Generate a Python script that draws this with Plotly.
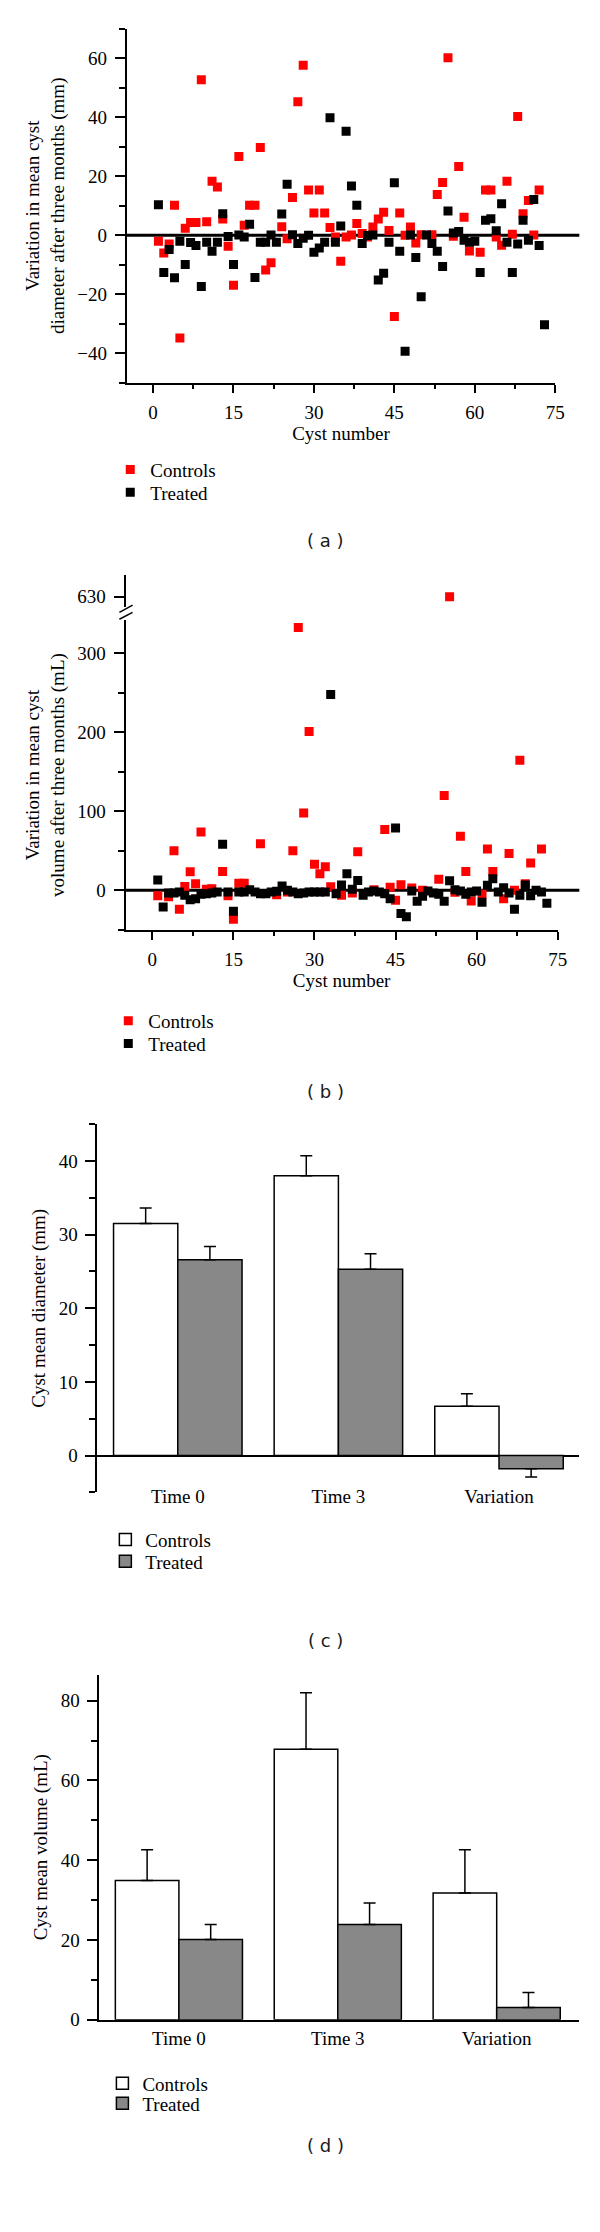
import plotly.graph_objects as go

# ---------------- data ----------------
# (a) variation in mean cyst diameter (mm)
controls_diam_cyst = [1, 2, 3, 4, 5, 6, 7, 8, 9, 10, 11, 12, 13, 14, 15, 16, 17, 18, 19, 20, 21, 22,
                      24, 25, 26, 27, 28, 29, 30, 31, 32, 33, 34, 35, 36, 37, 38, 39, 40, 41, 42, 43,
                      44, 45, 46, 47, 48, 49, 50, 52, 53, 54, 55, 56, 57, 58, 59, 61, 62, 63, 64, 65,
                      66, 67, 68, 69, 70, 71, 72]
controls_diam = [-2, -6, -3, 10.2, -34.8, 2.4, 4.3, 4.3, 52.7, 4.6, 18.3, 16.3, 5.5, -3.7, -16.9, 26.7,
                 3.4, 10.2, 10.2, 29.7, -11.8, -9.3,
                 2.9, -1.2, 12.8, 45.2, 57.6, 15.3, 7.5, 15.3, 7.5, 2.6, -0.6, -8.8, -0.6, 0.1, 4, 0.6,
                 -0.6, 2.8, 5.5, 7.8,
                 1.6, -27.5, 7.5, 0, 2.8, -2.6, 0.2, 0.2, 13.8, 17.9, 60.1, -0.3, 23.3, 6.1, -5.3, -5.8,
                 15.3, 15.3, -0.6, -3.4,
                 18.3, 0.3, 40.2, 7.3, 11.8, 0.1, 15.3]
treated_cyst = list(range(1, 74))
treated_diam = [10.3, -12.6, -4.8, -14.4, -2, -9.9, -2.5, -3.5, -17.4, -2.4,
                -5.4, -2.4, 7.3, -0.4, -9.9, 0.1, -0.6, 3.7, -14.3, -2.4,
                -2.4, 0.1, -2.4, 7.2, 17.3, 0.2, -2.8, -1, 0, -5.8,
                -4.3, -2.4, 39.8, -2.4, 3.1, 35.2, 16.7, 10.2, -2.8, -0.1,
                0.1, -15.2, -12.9, -2.4, 17.8, -5.4, -39.3, 0.1, -7.5, -20.8,
                0.1, -2.8, -5.4, -10.6, 8.2, 0.8, 1.3, -1.7, -2.4, -2,
                -12.6, 5.1, 5.6, 1.5, 10.7, -2.4, -12.6, -3, 5.1, -1.7,
                12.1, -3.5, -30.3]

# (b) variation in mean cyst volume (mL)
controls_vol_cyst = [1, 3, 4, 5, 6, 7, 8, 9, 10, 11, 13, 14, 15, 16, 17, 20, 23, 25, 26, 27, 28, 29,
                     30, 31, 32, 33, 35, 37, 38, 41, 43, 44, 45, 46, 48, 50, 53, 54, 55, 56, 57, 58,
                     59, 61, 62, 63, 65, 66, 67, 68, 69, 70, 72]
controls_vol = [-7, -8, 50, -24, 5, 23.5, 8.4, 74, 1.3, 2, 24, -7, -36.5, 9, 9, 59, -5.5, -2, 50, 333,
                98, 201,
                33, 21, 30, 4.6, -6.3, -3.4, 49, 0.8, 77, 3.8, -12.6, 7, 3, 0, 14, 120, 630, -2.5,
                68.5, 24,
                -13.4, -4.6, 52.5, 24, -10.5, 46.6, 0, 164.7, 8.4, 34.5, 52.5]
treated_vol = [13, -21, -3.4, -3.4, -2, -6.3, -11.8, -10.5, -5, -4.2,
               -3.4, -2, 58.4, -2, -26.5, -2, -2, 0.8, -2, -4.2,
               -4.2, -2, -1.3, 5.5, 0, -2, -4.2, -3.4, -2, -2,
               -2, -2, 248, -4.2, 6.7, 21, 1.3, 12.6, -6.3, -2,
               -0.8, -2, -4.2, -10.5, 79, -29.4, -33.6, -0.8, -13.9, -7.6,
               -0.8, -3.4, -5, -13.9, 12.2, 0.8, -0.8, -5, -2, -0.8,
               -15, 6.3, 14.7, -2, 3.4, -3.4, -24, -6.3, 6.7, -7,
               0, -2, -16.4]
vol_break = 350  # values above this are drawn on the upper (broken) segment

# (c), (d) group means with SE
categories = ["Time 0", "Time 3", "Variation"]
controls_mean_diam = [31.5, 38.0, 6.7]
controls_err_diam = [2.1, 2.7, 1.7]
treated_mean_diam = [26.6, 25.3, -1.8]
treated_err_diam = [1.8, 2.1, 1.1]
controls_mean_vol = [34.9, 67.8, 31.8]
controls_err_vol = [7.7, 14.2, 10.8]
treated_mean_vol = [20.1, 23.9, 3.1]
treated_err_vol = [3.8, 5.4, 3.7]

# ---------------- helpers ----------------
W, H = 600, 2232


def fx(px):
    return px / W


def fy(py):
    return 1 - py / H


SERIF = "Liberation Serif"
SANS = "DejaVu Sans"
RED = "#ff0000"
BLACK = "#000000"
GREY = "#888888"
tickfont = dict(family=SERIF, size=19, color="black")
titlefont = dict(family=SERIF, size=19, color="black")


def err_split(vals, errs):
    up = [e if v >= 0 else 0 for v, e in zip(vals, errs)]
    down = [e if v < 0 else 0 for v, e in zip(vals, errs)]
    return up, down


def yax(domain_px, rng, dtick, minor, title=None, standoff=8, anchor="x", lw=2):
    d = dict(domain=[fy(domain_px[1]), fy(domain_px[0])], range=rng, anchor=anchor,
             showline=True, linewidth=lw, linecolor="black", mirror=False,
             ticks="outside", ticklen=10, tickwidth=lw, tickcolor="black",
             tick0=0, dtick=dtick, showgrid=False, zeroline=False,
             tickfont=tickfont, ticklabelstandoff=4)
    if minor:
        d["minor"] = dict(dtick=minor, ticks="outside", ticklen=6, tickwidth=lw, tickcolor="black")
    if title:
        d["title"] = dict(text=title, font=titlefont, standoff=standoff)
    return d


def leg(xpx, ypx):
    return dict(x=fx(xpx), y=fy(ypx), xanchor="left", yanchor="middle",
                font=dict(family=SERIF, size=19, color="black"),
                bgcolor="rgba(0,0,0,0)", borderwidth=0)


fig = go.Figure()

# ---- (a) ----
fig.add_trace(go.Scatter(x=controls_diam_cyst, y=controls_diam, mode="markers", name="Controls",
                         marker=dict(symbol="square", size=9, color=RED),
                         xaxis="x", yaxis="y", legend="legend"))
fig.add_trace(go.Scatter(x=treated_cyst, y=treated_diam, mode="markers", name="Treated",
                         marker=dict(symbol="square", size=9, color=BLACK),
                         xaxis="x", yaxis="y", legend="legend2"))

# ---- (b) ----
low_x = [c for c, v in zip(controls_vol_cyst, controls_vol) if v <= vol_break]
low_y = [v for v in controls_vol if v <= vol_break]
up_x = [c for c, v in zip(controls_vol_cyst, controls_vol) if v > vol_break]
up_y = [v for v in controls_vol if v > vol_break]
fig.add_trace(go.Scatter(x=low_x, y=low_y, mode="markers", name="Controls",
                         marker=dict(symbol="square", size=9, color=RED),
                         xaxis="x2", yaxis="y2", legend="legend3"))
fig.add_trace(go.Scatter(x=up_x, y=up_y, mode="markers", name="Controls", showlegend=False,
                         marker=dict(symbol="square", size=9, color=RED),
                         xaxis="x2", yaxis="y3"))
fig.add_trace(go.Scatter(x=treated_cyst, y=treated_vol, mode="markers", name="Treated",
                         marker=dict(symbol="square", size=9, color=BLACK),
                         xaxis="x2", yaxis="y2", legend="legend4"))

# ---- (c) ----
u, d = err_split(controls_mean_diam, controls_err_diam)
fig.add_trace(go.Bar(x=categories, y=controls_mean_diam, name="Controls",
                     marker=dict(color="white", line=dict(color="black", width=1.5)),
                     error_y=dict(type="data", symmetric=False, array=u, arrayminus=d,
                                  color="black", thickness=1.5, width=6),
                     xaxis="x3", yaxis="y4", legend="legend5"))
u, d = err_split(treated_mean_diam, treated_err_diam)
fig.add_trace(go.Bar(x=categories, y=treated_mean_diam, name="Treated",
                     marker=dict(color=GREY, line=dict(color="black", width=1.5)),
                     error_y=dict(type="data", symmetric=False, array=u, arrayminus=d,
                                  color="black", thickness=1.5, width=6),
                     xaxis="x3", yaxis="y4", legend="legend6"))

# ---- (d) ----
u, d = err_split(controls_mean_vol, controls_err_vol)
fig.add_trace(go.Bar(x=categories, y=controls_mean_vol, name="Controls",
                     marker=dict(color="white", line=dict(color="black", width=1.5)),
                     error_y=dict(type="data", symmetric=False, array=u, arrayminus=d,
                                  color="black", thickness=1.5, width=6),
                     xaxis="x4", yaxis="y5", legend="legend7"))
u, d = err_split(treated_mean_vol, treated_err_vol)
fig.add_trace(go.Bar(x=categories, y=treated_mean_vol, name="Treated",
                     marker=dict(color=GREY, line=dict(color="black", width=1.5)),
                     error_y=dict(type="data", symmetric=False, array=u, arrayminus=d,
                                  color="black", thickness=1.5, width=6),
                     xaxis="x4", yaxis="y5", legend="legend8"))

xcommon = dict(showline=True, linewidth=2, linecolor="black", ticks="outside", ticklen=8,
               tickwidth=2, tickcolor="black", tick0=0, dtick=15,
               minor=dict(dtick=7.5, ticks="outside", ticklen=4, tickwidth=2, tickcolor="black"),
               showgrid=False, zeroline=False, tickfont=tickfont, ticklabelstandoff=3)

fig.update_layout(
    width=W, height=H, autosize=False,
    margin=dict(l=0, r=0, t=0, b=0),
    paper_bgcolor="white", plot_bgcolor="white",
    barmode="group", bargap=0.2, bargroupgap=0,
    # (a)
    xaxis=dict(domain=[fx(120.8), fx(556.5)], range=[-4.9, 75], anchor="y",
               title=dict(text="Cyst number", font=titlefont, standoff=4), **xcommon),
    yaxis=yax((20.7, 376.7), [-50, 70], 20, 10,
              title="Variation in mean cyst<br>diameter after three months (mm)", anchor="x"),
    # (b)
    xaxis2=dict(domain=[fx(119.6), fx(559)], range=[-4.95, 75], anchor="y2",
                title=dict(text="Cyst number", font=titlefont, standoff=4), **xcommon),
    yaxis2=yax((615, 926.7), [-50.4, 342.4], 100, 50,
               title="Variation in mean cyst<br>volume after three months (mL)", anchor="x2"),
    yaxis3=dict(domain=[fy(601.7), fy(570)], range=[620, 651.7], anchor="x2",
                showline=True, linewidth=2, linecolor="black", ticks="outside", ticklen=10,
                tickwidth=2, tickcolor="black", tickvals=[630], showgrid=False, zeroline=False,
                tickfont=tickfont, ticklabelstandoff=4),
    # (c)
    xaxis3=dict(domain=[fx(91), fx(581)], range=[-0.5, 2.5], type="category",
                anchor="free", position=fy(1482), showline=False, ticks="",
                showgrid=False, zeroline=False, tickfont=tickfont),
    yaxis4=dict(**yax((1121.7, 1491.7), [-5, 45], 10, 5, title="Cyst mean diameter (mm)",
                      anchor="x3"), ),
    # (d)
    xaxis4=dict(domain=[fx(93), fx(581)], range=[-0.5, 2.52], type="category",
                anchor="y5", showline=True, linewidth=2, linecolor="black", ticks="",
                showgrid=False, zeroline=False, tickfont=tickfont),
    yaxis5=yax((1675, 2021.7), [0, 86.5], 20, 10, title="Cyst mean volume (mL)", anchor="x4"),
    legend=leg(104, 464), legend2=leg(104, 486.7),
    legend3=leg(102, 1018), legend4=leg(102, 1040.7),
    legend5=leg(99, 1539.3), legend6=leg(99, 1561),
    legend7=leg(96, 2085.7), legend8=leg(96, 2105.7),
)

# zero line for (c) through its y axis
fig.layout.yaxis4.zeroline = True
fig.layout.yaxis4.zerolinecolor = "black"
fig.layout.yaxis4.zerolinewidth = 1.5

shapes = [
    # zero reference lines for scatter panels, extending past the last tick
    dict(type="line", xref="paper", yref="y", x0=fx(120.8), x1=fx(581), y0=0, y1=0,
         line=dict(color="black", width=3), layer="below"),
    dict(type="line", xref="paper", yref="y2", x0=fx(119.6), x1=fx(581), y0=0, y1=0,
         line=dict(color="black", width=3), layer="below"),
    # axis break marks on (b)
    dict(type="line", xref="paper", yref="paper", x0=fx(113.3), y0=fy(607.3), x1=fx(126.7), y1=fy(600),
         line=dict(color="black", width=1.5)),
    dict(type="line", xref="paper", yref="paper", x0=fx(113.3), y0=fy(614.3), x1=fx(126.7), y1=fy(607.3),
         line=dict(color="black", width=1.5)),
]
fig.update_layout(shapes=shapes)

for lab, ypx in [("( a )", 535), ("( b )", 1089), ("( c )", 1641), ("( d )", 2148.3)]:
    fig.add_annotation(text=lab, xref="paper", yref="paper", x=fx(323), y=fy(ypx),
                       xanchor="center", yanchor="middle", showarrow=False,
                       font=dict(family=SANS, size=18, color="#1a1a1a"))

fig.write_html("out.html")
